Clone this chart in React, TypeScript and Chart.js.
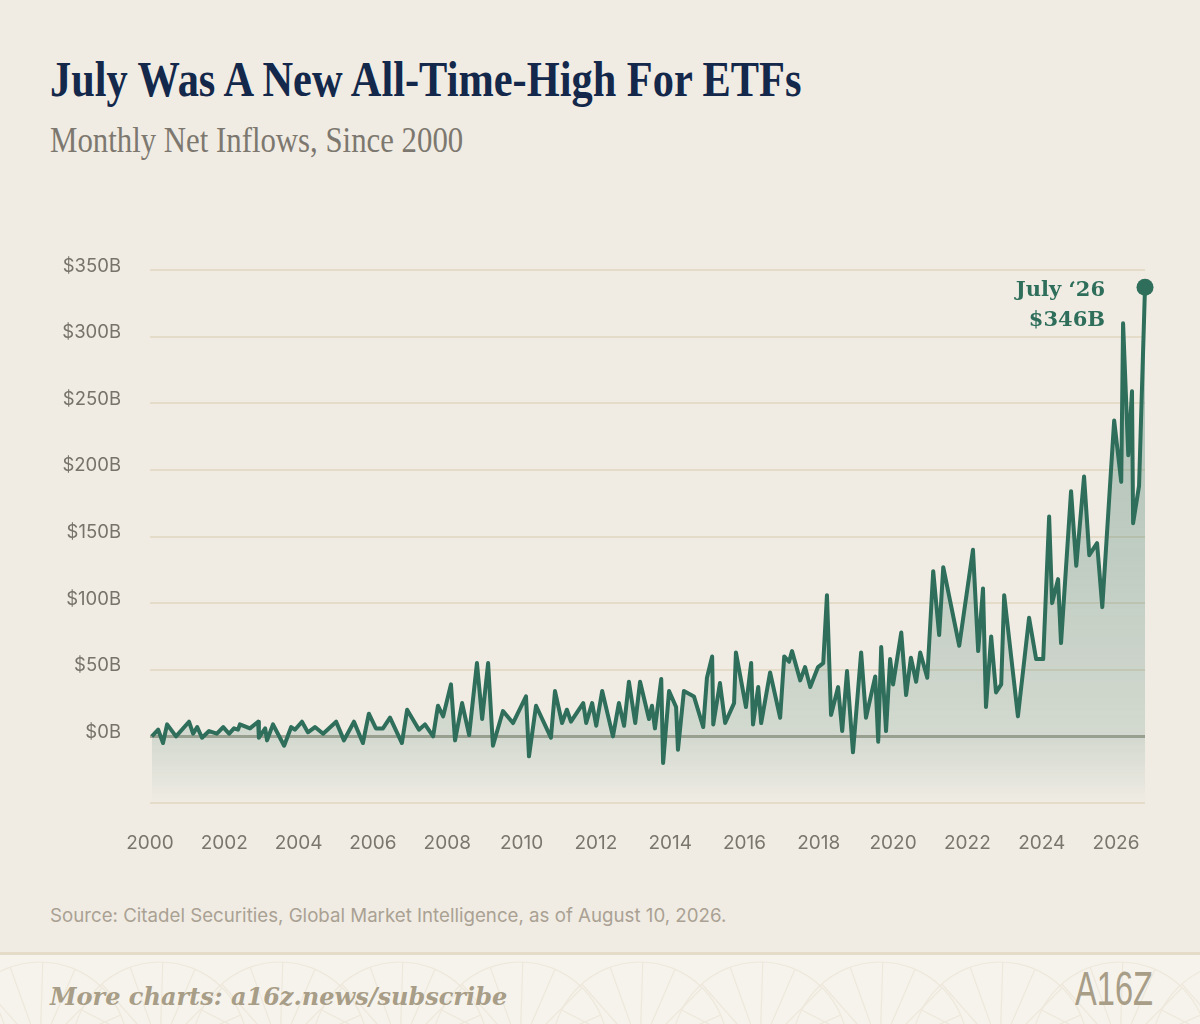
import { useEffect, useRef } from "react";
import { Chart, registerables } from "chart.js";

Chart.register(...registerables);

// time of each observation, in decimal years
const YEARS = [
  2000.05, 2000.22, 2000.35, 2000.46, 2000.7, 2001.05, 2001.16, 2001.27, 2001.4, 2001.59,
  2001.8, 2001.97, 2002.13, 2002.26, 2002.37, 2002.42, 2002.69, 2002.91, 2002.93, 2003.1,
  2003.15, 2003.31, 2003.61, 2003.8, 2003.9, 2004.09, 2004.25, 2004.44, 2004.66, 2005.01,
  2005.22, 2005.49, 2005.73, 2005.89, 2006.08, 2006.27, 2006.46, 2006.78, 2006.92, 2007.24,
  2007.4, 2007.62, 2007.75, 2007.89, 2008.1, 2008.21, 2008.4, 2008.59, 2008.8, 2008.94,
  2009.1, 2009.23, 2009.5, 2009.77, 2010.12, 2010.2, 2010.39, 2010.79, 2010.9, 2011.09,
  2011.22, 2011.33, 2011.66, 2011.74, 2011.9, 2012.01, 2012.17, 2012.46, 2012.62, 2012.76,
  2012.89, 2013.06, 2013.19, 2013.43, 2013.51, 2013.59, 2013.76, 2013.81, 2013.97, 2014.16,
  2014.21, 2014.37, 2014.64, 2014.89, 2014.99, 2015.13, 2015.16, 2015.34, 2015.48, 2015.72,
  2015.77, 2016.04, 2016.18, 2016.23, 2016.37, 2016.45, 2016.69, 2016.96, 2017.07, 2017.2,
  2017.28, 2017.5, 2017.63, 2017.77, 2017.98, 2018.12, 2018.22, 2018.33, 2018.52, 2018.63,
  2018.76, 2018.92, 2019.14, 2019.27, 2019.52, 2019.6, 2019.68, 2019.81, 2019.92, 2020.0,
  2020.22, 2020.35, 2020.48, 2020.62, 2020.73, 2020.92, 2021.08, 2021.24, 2021.35, 2021.78,
  2022.15, 2022.29, 2022.42, 2022.5, 2022.64, 2022.77, 2022.91, 2022.99, 2023.36, 2023.66,
  2023.85, 2024.04, 2024.2, 2024.28, 2024.44, 2024.52, 2024.79, 2024.93, 2025.14, 2025.28,
  2025.49, 2025.63, 2025.95, 2026.14, 2026.19, 2026.33, 2026.43, 2026.46, 2026.62, 2026.78,
];

// net inflows, $B
const INFLOWS = [
  0, 5, -5, 9, 0, 11, 2, 7, -1, 4,
  2, 7, 2, 6, 5, 9, 6, 11, -1, 6,
  -3, 9, -7, 7, 5, 11, 3, 7, 2, 11,
  -3, 11, -5, 17, 6, 6, 14, -5, 20, 5,
  9, 0, 23, 15, 39, -3, 25, 1, 55, 13,
  55, -7, 19, 10, 30, -15, 23, -1, 34, 10,
  20, 11, 25, 10, 25, 8, 34, 0, 25, 8,
  41, 10, 41, 13, 23, 6, 43, -20, 34, 22,
  -10, 34, 30, 7, 44, 60, 9, 40, 10, 25,
  63, 22, 55, 9, 37, 10, 48, 14, 60, 56,
  64, 42, 52, 37, 52, 55, 106, 16, 37, 4,
  49, -12, 63, 14, 45, -4, 67, 4, 58, 39,
  78, 31, 59, 41, 63, 44, 124, 76, 127, 68,
  140, 64, 111, 22, 75, 33, 39, 106, 15, 89,
  58, 58, 165, 100, 118, 70, 184, 128, 195, 136,
  145, 97, 237, 191, 310, 211, 259, 160, 188, 337,
];

const TICK_YEARS = [2000, 2002, 2004, 2006, 2008, 2010, 2012, 2014, 2016, 2018, 2020, 2022, 2024, 2026];
const Y_TICKS = [-50, 0, 50, 100, 150, 200, 250, 300, 350];
const END_LABEL = ["July \u201826", "$346B"];

const LINE_COLOR = "#2e6e5b";
const BG = "#f0ece4";

const endLabel = {
  id: "endLabel",
  afterDatasetsDraw(chart: any) {
    const meta = chart.getDatasetMeta(0);
    const pt = meta.data[meta.data.length - 1];
    if (!pt) return;
    const ctx = chart.ctx;
    ctx.save();
    ctx.font = "bold 21px 'DejaVu Serif'";
    ctx.fillStyle = LINE_COLOR;
    ctx.textAlign = "right";
    ctx.textBaseline = "middle";
    ctx.fillText(END_LABEL[0], pt.x - 40, pt.y + 3);
    ctx.fillText(END_LABEL[1], pt.x - 40, pt.y + 33);
    ctx.restore();
  },
};

function FooterPattern() {
  const arcs = [];
  for (let i = -1; i < 12; i++) {
    const cx = i * 120 + 40;
    arcs.push(<circle key={"c" + i} cx={cx} cy={95} r={88} />);
    for (let k = 0; k < 7; k++) {
      const a = Math.PI * (1.15 + k * 0.12);
      arcs.push(
        <line key={"l" + i + "_" + k} x1={cx} y1={95} x2={cx + Math.cos(a) * 88} y2={95 + Math.sin(a) * 88} />
      );
    }
  }
  return (
    <svg width={1200} height={69} style={{ position: "absolute", left: 0, top: 955 }}>
      <g fill="none" stroke="#eee8db" strokeWidth={1.2}>
        {arcs}
      </g>
    </svg>
  );
}

export default function App() {
  const canvasRef = useRef<HTMLCanvasElement>(null);

  useEffect(() => {
    document.body.style.margin = "0";
    document.body.style.background = BG;
    if (!canvasRef.current) return;

    const chart = new Chart(canvasRef.current, {
      type: "line",
      data: {
        datasets: [
          {
            data: YEARS.map((x, i) => ({ x, y: INFLOWS[i] })),
            borderColor: LINE_COLOR,
            borderWidth: 4,
            borderJoinStyle: "round",
            pointRadius: YEARS.map((_, i) => (i === YEARS.length - 1 ? 8.5 : 0)),
            pointBackgroundColor: LINE_COLOR,
            pointBorderWidth: 0,
            tension: 0,
            clip: false,
            fill: "start",
            backgroundColor: (c: any) => {
              const area = c.chart.chartArea;
              if (!area) return "rgba(46,110,91,0.2)";
              const g = c.chart.ctx.createLinearGradient(0, area.top, 0, area.bottom);
              g.addColorStop(0, "rgba(46,110,91,0.32)");
              g.addColorStop(0.45, "rgba(46,110,91,0.27)");
              g.addColorStop(0.876, "rgba(46,110,91,0.15)");
              g.addColorStop(1, "rgba(46,110,91,0)");
              return g;
            },
          },
        ],
      },
      options: {
        animation: false,
        responsive: true,
        maintainAspectRatio: false,
        layout: { padding: { top: 20, right: 55, left: 0, bottom: 0 } },
        plugins: { legend: { display: false }, tooltip: { enabled: false } },
        scales: {
          x: {
            type: "linear",
            min: 2000,
            max: 2026.78,
            grid: { display: false, drawTicks: false },
            border: { display: false },
            afterBuildTicks: (s: any) => {
              s.ticks = TICK_YEARS.map((v) => ({ value: v }));
            },
            afterFit: (s: any) => {
              s.height = 60;
            },
            ticks: {
              padding: 29,
              maxRotation: 0,
              autoSkip: false,
              color: "#7b766d",
              font: { family: "Inter", size: 19 },
              callback: (v: any) => String(v),
            },
          },
          y: {
            min: -50,
            max: 350,
            border: { display: false },
            grid: {
              drawTicks: false,
              color: (c: any) => (c.tick && c.tick.value === 0 ? "#aaa898" : "#e4dbc8"),
              lineWidth: (c: any) => (c.tick && c.tick.value === 0 ? 3 : 2),
            },
            afterBuildTicks: (s: any) => {
              s.ticks = Y_TICKS.map((v) => ({ value: v }));
            },
            afterFit: (s: any) => {
              s.width = 150;
              s.paddingTop = 0;
              s.paddingBottom = 0;
            },
            ticks: {
              padding: 29,
              labelOffset: -4,
              color: "#77726a",
              font: { family: "Inter", size: 18.5 },
              callback: (v: any) => (v < 0 ? "" : "$" + v + "B"),
            },
          },
        },
      },
      plugins: [endLabel],
    });

    return () => chart.destroy();
  }, []);

  return (
    <div style={{ position: "relative", width: 1200, height: 1024, background: BG, overflow: "hidden" }}>
      <div
        style={{
          position: "absolute",
          left: 50,
          top: 54,
          fontFamily: "'Liberation Serif', serif",
          fontWeight: 700,
          fontSize: 50,
          lineHeight: "50px",
          color: "#13284a",
          whiteSpace: "nowrap",
          transform: "scaleX(0.848)",
          transformOrigin: "left top",
        }}
      >
        July Was A New All-Time-High For ETFs
      </div>
      <div
        style={{
          position: "absolute",
          left: 50,
          top: 123,
          fontFamily: "'Liberation Serif', serif",
          fontWeight: 400,
          fontSize: 35,
          lineHeight: "35px",
          color: "#7d786f",
          whiteSpace: "nowrap",
          transform: "scaleX(0.88)",
          transformOrigin: "left top",
        }}
      >
        Monthly Net Inflows, Since 2000
      </div>

      <div style={{ position: "absolute", left: 0, top: 250, width: 1200, height: 613 }}>
        <canvas ref={canvasRef} />
      </div>

      <div
        style={{
          position: "absolute",
          left: 50,
          top: 905,
          fontFamily: "Inter, sans-serif",
          fontSize: 18.7,
          lineHeight: "22px",
          color: "#aaa193",
          whiteSpace: "nowrap",
        }}
      >
        Source: Citadel Securities, Global Market Intelligence, as of August 10, 2026.
      </div>

      <div style={{ position: "absolute", left: 0, top: 955, width: 1200, height: 69, background: "#f6f3ed" }} />
      <FooterPattern />
      <div style={{ position: "absolute", left: 0, top: 952, width: 1200, height: 3, background: "#e4dbc9" }} />
      <div
        style={{
          position: "absolute",
          left: 50,
          top: 983,
          fontFamily: "'DejaVu Serif', serif",
          fontWeight: 700,
          fontStyle: "italic",
          fontSize: 24,
          lineHeight: "28px",
          color: "#a89d87",
          whiteSpace: "nowrap",
        }}
      >
        More charts: a16z.news/subscribe
      </div>
      <div
        style={{
          position: "absolute",
          left: 1075,
          top: 965,
          fontFamily: "'Liberation Sans', sans-serif",
          fontSize: 48,
          lineHeight: "48px",
          color: "#a89d87",
          whiteSpace: "nowrap",
          transform: "scaleX(0.68)",
          transformOrigin: "left top",
        }}
      >
        A16Z
      </div>
    </div>
  );
}
